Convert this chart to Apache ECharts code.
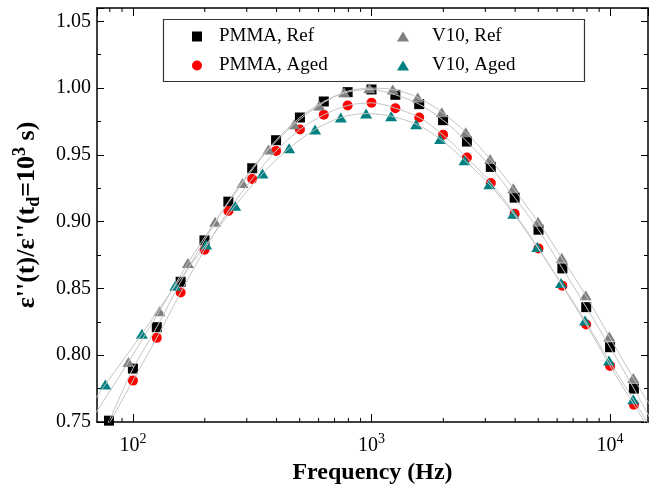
<!DOCTYPE html>
<html>
<head>
<meta charset="utf-8">
<title>Normalized loss vs frequency</title>
<script src="https://cdn.jsdelivr.net/npm/echarts@6/dist/echarts.min.js"></script>
<style>
  html, body { margin: 0; padding: 0; background: #fff; }
  #chart { width: 652px; height: 490px; }
</style>
</head>
<body>
<div id="chart"></div>
<script>
// Measured frequencies (Hz) and normalized loss values
const pmmaFreq = [79.4, 100, 125.9, 158.5, 199.5, 251.2, 316.2, 398.1, 501.2, 631.0, 794.3, 1000,
  1258.9, 1584.9, 1995.3, 2511.9, 3162.3, 3981.1, 5011.9, 6309.6, 7943.3, 10000, 12589];
const pmmaRef = [0.751, 0.790, 0.821, 0.855, 0.886, 0.915, 0.940, 0.961, 0.978, 0.990, 0.997, 0.999,
  0.995, 0.988, 0.976, 0.960, 0.941, 0.918, 0.894, 0.865, 0.836, 0.806, 0.775];

const pmmaAgedFreq = [100, 125.9, 158.5, 199.5, 251.2, 316.2, 398.1, 501.2, 631.0, 794.3, 1000,
  1258.9, 1584.9, 1995.3, 2511.9, 3162.3, 3981.1, 5011.9, 6309.6, 7943.3, 10000, 12589];
const pmmaAged = [0.781, 0.813, 0.847, 0.879, 0.908, 0.932, 0.953, 0.969, 0.980, 0.987, 0.989,
  0.985, 0.978, 0.965, 0.948, 0.929, 0.906, 0.880, 0.852, 0.823, 0.792, 0.763];

const v10RefFreq = [95.8, 129.2, 170.0, 221.2, 287.9, 369.9, 474.0, 603.3, 767.8, 979.9, 1228,
  1563, 1970, 2483, 3140, 3930, 4989, 6270, 7903, 9924, 12510];
const v10Ref = [0.795, 0.833, 0.869, 0.900, 0.929, 0.954, 0.973, 0.987, 0.997, 1.000, 0.999,
  0.993, 0.982, 0.967, 0.947, 0.925, 0.900, 0.873, 0.845, 0.814, 0.783];

const v10AgedFreq = [76.6, 109.1, 150.4, 202.8, 268.3, 349.1, 451.6, 580.2, 743.7, 949.3, 1208,
  1538, 1939, 2455, 3118, 3930, 4955, 6228, 7850, 9895, 12510];
const v10Aged = [0.778, 0.816, 0.852, 0.883, 0.912, 0.936, 0.955, 0.969, 0.978, 0.981, 0.979,
  0.973, 0.962, 0.946, 0.928, 0.906, 0.881, 0.854, 0.826, 0.796, 0.767];

// Fit curves continue past the measured range to the plot edges
const pmmaRefFitEnds = [[70, 0.733], [15000, 0.750]];
const pmmaAgedFitEnds = [[70, 0.731], [15000, 0.741]];
const v10RefFitEnds = [[70, 0.757], [15000, 0.760]];
const v10AgedFitEnds = [[70, 0.768], [15000, 0.744]];

// Axis ranges and minor tick positions on the log frequency axis
const xRange = [70.7, 14420];
const yRange = [0.75, 1.06];
const minorTickFreq = [80, 90, 200, 300, 400, 500, 600, 700, 800, 900,
  2000, 3000, 4000, 5000, 6000, 7000, 8000, 9000];

const FONT = '"Liberation Serif", "Times New Roman", serif';

function pairs(xs, ys) { return xs.map((x, i) => [x, ys[i]]); }
function fitLine(xs, ys, ends) {
  return [ends[0]].concat(pairs(xs, ys), [ends[1]]);
}

const chart = echarts.init(document.getElementById('chart'), null, { renderer: 'canvas' });

const scatterBase = { type: 'scatter', xAxisIndex: 0, yAxisIndex: 0, z: 2 };
const fitBase = {
  type: 'line', xAxisIndex: 0, yAxisIndex: 0, smooth: 0.3, showSymbol: false, symbol: 'none',
  lineStyle: { color: '#c4c4c4', width: 1 }, silent: true, z: 4, clip: true
};

const axisLine = { show: true, onZero: false, lineStyle: { color: '#000', width: 1.5 } };
const bold = { fontWeight: 'bold', fontFamily: FONT, color: '#000' };

const option = {
  backgroundColor: '#fff',
  animation: false,
  grid: { left: 97, right: 4, top: 8, bottom: 68, containLabel: false },
  xAxis: [
    {
      type: 'log', logBase: 10, min: xRange[0], max: xRange[1], position: 'bottom',
      axisLine: axisLine,
      axisTick: { show: true, inside: true, length: 8, lineStyle: { color: '#000', width: 1 } },
      splitLine: { show: false },
      axisLabel: {
        show: true, margin: 10, showMinLabel: false, showMaxLabel: false, color: '#000',
        formatter: v => '{b|10}{s|' + Math.round(Math.log10(v)) + '}',
        rich: {
          b: { fontSize: 20, fontFamily: FONT, color: '#000', lineHeight: 28 },
          s: { fontSize: 14, fontFamily: FONT, color: '#000', lineHeight: 14, verticalAlign: 'top' }
        }
      },
      name: 'Frequency (Hz)', nameLocation: 'middle', nameGap: 36,
      nameTextStyle: Object.assign({ fontSize: 24 }, bold)
    },
    {
      type: 'log', logBase: 10, min: xRange[0], max: xRange[1], position: 'top',
      axisLine: axisLine,
      axisTick: { show: true, inside: true, length: 8, lineStyle: { color: '#000', width: 1 } },
      axisLabel: { show: false }, splitLine: { show: false }
    }
  ],
  yAxis: [
    {
      type: 'value', min: yRange[0], max: yRange[1], interval: 0.05, position: 'left',
      axisLine: axisLine,
      axisTick: { show: true, inside: true, length: 7, lineStyle: { color: '#000', width: 1 } },
      minorTick: { show: true, splitNumber: 2, length: 4, lineStyle: { color: '#000', width: 1 } },
      splitLine: { show: false },
      axisLabel: {
        show: true, margin: 6, showMaxLabel: false, fontSize: 20, fontFamily: FONT, color: '#000',
        formatter: v => v.toFixed(2)
      },
      name: "{b|ε''(t)/ε''(t}{sub|d}{b|=10}{sup|3}{b| s)}",
      nameLocation: 'middle', nameRotate: 90, nameGap: 54,
      nameTextStyle: Object.assign({
        fontSize: 26,
        rich: {
          b: Object.assign({ fontSize: 26, lineHeight: 32 }, bold),
          sub: Object.assign({ fontSize: 18, lineHeight: 18, verticalAlign: 'bottom' }, bold),
          sup: Object.assign({ fontSize: 18, lineHeight: 18, verticalAlign: 'top' }, bold)
        }
      }, bold)
    },
    {
      type: 'value', min: yRange[0], max: yRange[1], interval: 0.05, position: 'right',
      axisLine: axisLine,
      axisTick: { show: true, inside: true, length: 7, lineStyle: { color: '#000', width: 1 } },
      minorTick: { show: true, splitNumber: 2, length: 4, lineStyle: { color: '#000', width: 1 } },
      splitLine: { show: false },
      axisLabel: { show: false }
    }
  ],
  legend: [
    {
      orient: 'vertical', left: 187, top: 22, itemWidth: 10, itemHeight: 10, itemGap: 10,
      data: ['PMMA, Ref', 'PMMA, Aged'],
      textStyle: { fontSize: 19, fontFamily: FONT, color: '#000', lineHeight: 18, padding: [0, 0, 0, 12] },
      selectedMode: false
    },
    {
      orient: 'vertical', left: 392, top: 22, itemWidth: 12, itemHeight: 10, itemGap: 10,
      data: ['V10, Ref', 'V10, Aged'],
      textStyle: { fontSize: 19, fontFamily: FONT, color: '#000', lineHeight: 18, padding: [0, 0, 0, 18] },
      selectedMode: false
    }
  ],
  graphic: [
    {
      type: 'rect', left: 161, top: 17, z: 10, silent: true,
      shape: { width: 421, height: 62 },
      style: { fill: 'none', stroke: '#333', lineWidth: 1.2 }
    }
  ],
  series: [
    Object.assign({}, scatterBase, {
      name: 'PMMA, Ref', symbol: 'rect', symbolSize: 10,
      itemStyle: { color: '#000', opacity: 1 }, data: pairs(pmmaFreq, pmmaRef)
    }),
    Object.assign({}, scatterBase, {
      name: 'PMMA, Aged', symbol: 'circle', symbolSize: 10,
      itemStyle: { color: '#ff0000', opacity: 1 }, data: pairs(pmmaAgedFreq, pmmaAged)
    }),
    Object.assign({}, scatterBase, {
      name: 'V10, Ref', symbol: 'triangle', symbolSize: [12, 10],
      itemStyle: { color: '#808080', opacity: 1 }, data: pairs(v10RefFreq, v10Ref)
    }),
    Object.assign({}, scatterBase, {
      name: 'V10, Aged', symbol: 'triangle', symbolSize: [12, 10],
      itemStyle: { color: '#008080', opacity: 1 }, data: pairs(v10AgedFreq, v10Aged)
    }),
    Object.assign({}, fitBase, { name: 'fit-pmma-ref', data: fitLine(pmmaFreq, pmmaRef, pmmaRefFitEnds) }),
    Object.assign({}, fitBase, { name: 'fit-pmma-aged', data: fitLine(pmmaAgedFreq, pmmaAged, pmmaAgedFitEnds) }),
    Object.assign({}, fitBase, { name: 'fit-v10-ref', data: fitLine(v10RefFreq, v10Ref, v10RefFitEnds) }),
    Object.assign({}, fitBase, { name: 'fit-v10-aged', data: fitLine(v10AgedFreq, v10Aged, v10AgedFitEnds) }),
    {
      // minor ticks of the log frequency axis, on the bottom and top frame edges
      type: 'custom', xAxisIndex: 0, yAxisIndex: 0, silent: true, clip: false, z: 5,
      encode: { x: 0, y: 1 },
      data: minorTickFreq.map(f => [f, yRange[0]]),
      renderItem: function (params, api) {
        const f = api.value(0);
        const b = api.coord([f, yRange[0]]);
        const t = api.coord([f, yRange[1]]);
        const st = { stroke: '#000', lineWidth: 1 };
        return {
          type: 'group',
          children: [
            { type: 'line', shape: { x1: b[0], y1: b[1], x2: b[0], y2: b[1] - 4 }, style: st },
            { type: 'line', shape: { x1: t[0], y1: t[1], x2: t[0], y2: t[1] + 4 }, style: st }
          ]
        };
      }
    }
  ]
};

chart.setOption(option);
</script>
</body>
</html>
